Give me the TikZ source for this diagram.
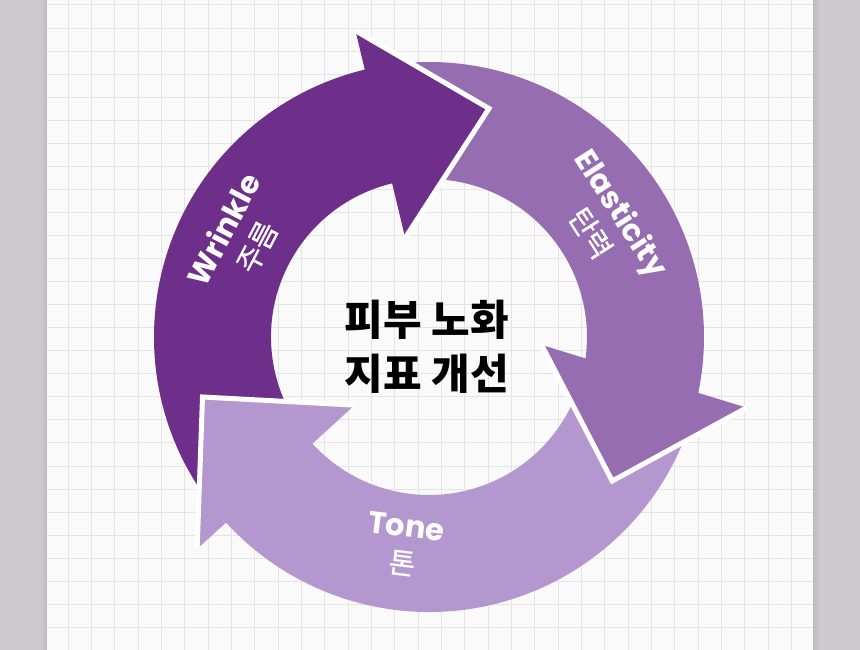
\documentclass[tikz,border=0pt]{standalone}
\usepackage{fontspec}
\usetikzlibrary{calc}
\newfontfamily\krfont{Noto Sans CJK KR}
\newfontfamily\krmed{Noto Sans CJK KR}[FakeBold=0.6]
\newfontfamily\popfont{Poppins}
\definecolor{wrc}{HTML}{6E2F8A}
\definecolor{elc}{HTML}{956DB0}
\definecolor{toc}{HTML}{B597CF}
\definecolor{pagebg}{HTML}{FAFAFA}
\definecolor{gridc}{HTML}{E4E4E4}
\definecolor{sidec}{HTML}{CDCBD0}
\definecolor{sidedark}{HTML}{BDBBC1}
\tikzset{
  gridline/.style={draw=gridc, line width=1pt},
  headline/.style={draw=white, line width=5pt, miter limit=10, line join=miter},
  lbl/.style={text=white, align=center, inner sep=0pt, font=\fontsize{30}{37}\selectfont},
  title/.style={text=black, align=center, inner sep=0pt, font=\krfont\bfseries\fontsize{42}{54}\selectfont}
}
\newcommand{\latlbl}[1]{{\popfont\bfseries\fontsize{30.5}{37}\selectfont #1}}
\newcommand{\krlbl}[1]{{\krmed\fontsize{29}{37}\selectfont #1}}
\begin{document}
\begin{tikzpicture}[x=1pt,y=-1pt]
\useasboundingbox (0,0) rectangle (860,650);
% side and page
\fill[sidec] (0,0) rectangle (860,650);
\shade[left color=sidec, right color=sidedark] (40,0) rectangle (47,650);
\shade[left color=sidedark, right color=sidec] (813,0) rectangle (820,650);
\fill[pagebg] (47,0) rectangle (813,650);
\begin{scope}
\clip (47,0) rectangle (813,650);
\foreach \i in {0,...,31} \draw[gridline] ({68.33+23.33*\i},0) -- ({68.33+23.33*\i},650);
\foreach \j in {0,...,27} \draw[gridline] (47,{5+23.05*\j}) -- (813,{5+23.05*\j});
\end{scope}
% geometry
\coordinate (C) at (429,337);
\coordinate (Wob) at ([shift={(C)}]256.5:315);
\coordinate (Wib) at ([shift={(C)}]256.5:102);
\coordinate (Wtip) at (489,108.5);
\coordinate (Eob) at (746.7,407.7);
\coordinate (Eib) at (541.7,345);
\coordinate (Etip) at (612.2,481);
\coordinate (Tob) at ([shift={(C)}]137.6:314);
\coordinate (Tib) at ([shift={(C)}]137.6:101);
\coordinate (Ttip) at (202.5,397);
% Tone arrow
\fill[toc] ([shift={(C)}]9.3:158) -- ([shift={(C)}]13.2:275)
  arc[start angle=13.2, end angle=137.6, radius=275] -- (Tob) -- (Ttip) -- (Tib)
  -- ([shift={(C)}]137.6:158) arc[start angle=137.6, end angle=9.3, radius=158] -- cycle;
% Elasticity arrow
\fill[elc] ([shift={(C)}]258:275)
  arc[start angle=258, end angle=371.73, radius=275] -- (Eob) -- (Etip) -- (Eib)
  -- ([shift={(C)}]7.79:158) arc[start angle=367.79, end angle=258, radius=158] -- cycle;
\draw[headline] (Eob) -- (Etip) -- (Eib);
% Wrinkle arrow
\fill[wrc] ([shift={(C)}]139:275)
  arc[start angle=139, end angle=256.5, radius=275] -- (Wob) -- (Wtip) -- (Wib)
  -- ([shift={(C)}]256.5:158) arc[start angle=256.5, end angle=139, radius=158] -- cycle;
\draw[headline] (Wob) -- (Wtip) -- (Wib);
% Tone head on top
\fill[toc] (Tob) -- (Ttip) -- (Tib) -- cycle;
\draw[headline] (Tob) -- (Ttip) -- (Tib);
% labels
\node[lbl, rotate=62.4] (wrlabel) at ([shift={(C)}]207.6:213)
  {\latlbl{Wrinkle}\\\krlbl{주름}};
\node[lbl, rotate=-57.3] (ellabel) at ([shift={(C)}]-32.7:211)
  {\latlbl{Elasticity}\\\krlbl{탄력}};
\node[lbl, rotate=-6.8] (tolabel) at ([shift={(C)}]96.8:210)
  {\latlbl{Tone}\\\krlbl{톤}};
\node[title] (center) at (427,347) {피부 노화\\지표 개선};
\end{tikzpicture}
\end{document}
